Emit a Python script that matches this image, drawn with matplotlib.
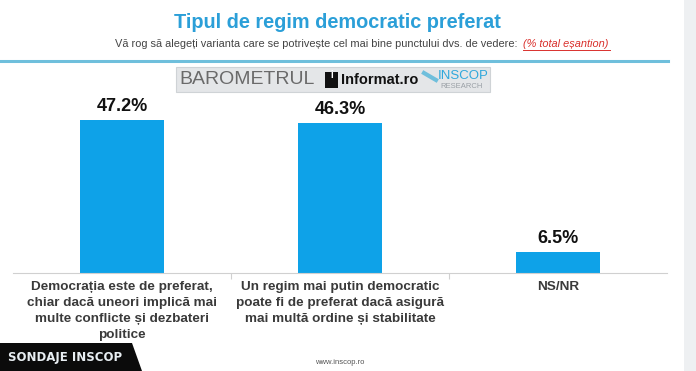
import matplotlib.pyplot as plt
from matplotlib.patches import Rectangle, Polygon

plt.rcParams['font.family'] = ['Liberation Sans', 'DejaVu Sans']

# data
categories = [
    'Democrația este de preferat,\nchiar dacă uneori implică mai\nmulte conflicte și dezbateri\npolitice',
    'Un regim mai putin democratic\npoate fi de preferat dacă asigură\nmai multă ordine și stabilitate',
    'NS/NR',
]
values = [47.2, 46.3, 6.5]
value_labels = ['47.2%', '46.3%', '6.5%']

blue = '#0ea2e8'
title_blue = '#2b9fd8'

fig = plt.figure(figsize=(6.96, 3.71), dpi=100)
W, H = 696, 371

def fx(px):
    return px / W

def fy(py):
    return 1 - py / H

# bar axes: x 13..667, baseline y 273
ax = fig.add_axes([fx(13), fy(273), fx(667) - fx(13), fy(95) - fy(273)])
x = range(len(values))
ax.bar(x, values, width=0.385, color=blue, zorder=2)
ax.set_xlim(-0.5, 2.5)
ax.set_ylim(0, 55)
for i, v in enumerate(values):
    ax.text(i, v + 1.5, value_labels[i], ha='center', va='bottom',
            fontsize=13, fontweight='bold', color='#111111')
for s in ['top', 'right', 'left']:
    ax.spines[s].set_visible(False)
ax.spines['bottom'].set_color('#d0d0d0')
ax.set_yticks([])
ax.set_xticks([0.5, 1.5])
ax.set_xticklabels([])
ax.tick_params(axis='x', length=4, color='#d0d0d0', direction='out')
for i, c in enumerate(categories):
    ax.text(i, -2.6, c, ha='center', va='top', fontsize=9.7, fontweight='bold',
            color='#3a3a3a', linespacing=1.42)

# title and subtitle
fig.text(fx(337), fy(23), 'Tipul de regim democratic preferat', ha='center', va='center',
         fontsize=14.3, fontweight='bold', color=title_blue)
fig.text(fx(115), fy(44), 'Vă rog să alegeți varianta care se potrivește cel mai bine punctului dvs. de vedere:',
         ha='left', va='center', fontsize=7.9, color='#444444')
fig.text(fx(523), fy(44), '(% total eșantion)', ha='left', va='center', fontsize=7.9,
         color='#d9302c', style='italic')
fig.add_artist(plt.Line2D([fx(523), fx(610)], [fy(50), fy(50)], color='#d9302c', lw=0.7))
fig.add_artist(plt.Line2D([0, fx(668)], [fy(61), fy(61)], color='#6fbfdc', lw=2.2))

# logo strip
fig.add_artist(Rectangle((fx(176), fy(92)), fx(490) - fx(176), fy(67) - fy(92),
                         facecolor='#e4e6e8', edgecolor='#cfd3d6', lw=0.8))
fig.text(fx(179), fy(80), 'BAROMETRUL', ha='left', va='center', fontsize=14,
         color='#6a6a6a', fontweight='light')
fig.add_artist(Rectangle((fx(325), fy(88)), fx(338) - fx(325), fy(72) - fy(88),
                         facecolor='#111111'))
fig.text(fx(331.5), fy(75), 'i', ha='center', va='center', fontsize=7, color='white', fontweight='bold')
fig.text(fx(341), fy(80), 'Informat.ro', ha='left', va='center', fontsize=10.5,
         color='#111111', fontweight='bold')
fig.text(fx(438), fy(76), 'INSCOP', ha='left', va='center', fontsize=9.5, color='#2fa8dc')
fig.text(fx(440), fy(86), 'RESEARCH', ha='left', va='center', fontsize=5.5, color='#9aa0a6')
fig.add_artist(plt.Line2D([fx(424), fx(436)], [fy(73), fy(80)], color='#6fbfdc', lw=3))

# footer
fig.add_artist(Polygon([[0, fy(343)], [fx(132), fy(343)], [fx(142), fy(371)], [0, fy(371)]],
                       closed=True, facecolor='#0b0b0b'))
fig.text(fx(8), fy(357), 'SONDAJE INSCOP', ha='left', va='center', fontsize=8.5,
         color='#e8eef2', fontweight='bold', family='DejaVu Sans')
fig.text(fx(340), fy(363), 'www.inscop.ro', ha='center', va='center', fontsize=5.5, color='#555555')

# right edge strip
fig.add_artist(Rectangle((fx(684), 0), fx(696) - fx(684), 1, facecolor='#eef0f2', edgecolor='none'))

fig.savefig('out.png', dpi=100)
